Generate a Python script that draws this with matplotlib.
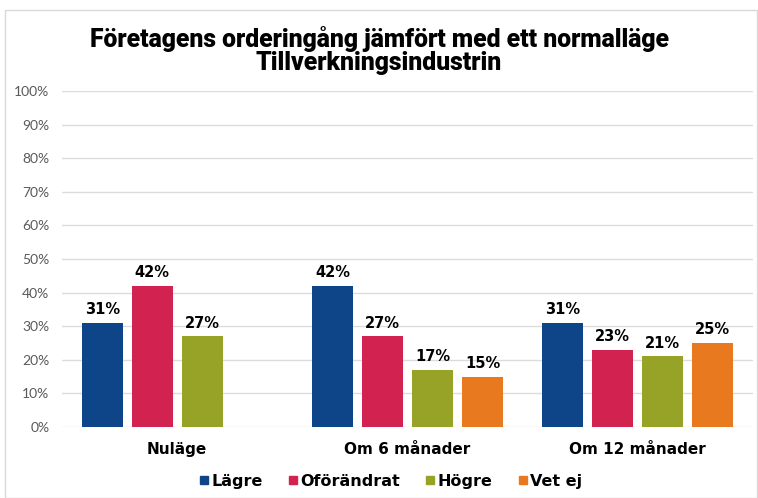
import numpy as np
import matplotlib
matplotlib.use('Agg')
import matplotlib.pyplot as plt
import matplotlib.patches as patches
from matplotlib.lines import Line2D

# data
categories = ['Nuläge', 'Om 6 månader', 'Om 12 månader']
series = ['Lägre', 'Oförändrat', 'Högre', 'Vet ej']
values = {
    'Lägre':      [31, 42, 31],
    'Oförändrat': [42, 27, 23],
    'Högre':      [27, 17, 21],
    'Vet ej':     [None, 15, 25],
}
colors = ['#0E4589', '#D22250', '#97A326', '#E8791E']
yticks = [0, 10, 20, 30, 40, 50, 60, 70, 80, 90, 100]

fig = plt.figure(figsize=(7.58, 4.98), dpi=100, facecolor='white')
ax = fig.add_axes([62/758, (498-427)/498, (753-62)/758, (427-91)/498])

step = 50/230.5
width = 41/230.5
x = np.arange(len(categories))
for i, (s, c) in enumerate(zip(series, colors)):
    off = (i - 1.5)*step
    for j, v in enumerate(values[s]):
        if v is None:
            continue
        ax.bar(x[j] + off, v, width, color=c, zorder=3)
        ax.text(x[j] + off, v + 2.6, f'{v}%', ha='center', va='baseline',
                fontsize=10.5, fontweight='bold', family='DejaVu Sans', color='black')

ax.set_xlim(-0.5, 2.5)
ax.set_ylim(0, 100)
ax.set_yticks(yticks)
ax.set_yticklabels([f'{t}%' for t in yticks], fontsize=10, color='#595959', family='Lato')
ax.set_xticks(x)
ax.set_xticklabels(categories, fontsize=11, fontweight='bold', family='DejaVu Sans')
ax.tick_params(axis='both', length=0)
ax.tick_params(axis='x', pad=11)
ax.tick_params(axis='y', pad=9)
ax.grid(axis='y', color='#DCDCDC', lw=1, zorder=0)
for sp in ax.spines.values():
    sp.set_visible(False)

# title
fig.text(0.5, 1 - 39/498, 'Företagens orderingång jämfört med ett normalläge',
         ha='center', va='center', fontsize=17.8, fontweight='black', family='Roboto')
fig.text(0.5, 1 - 63/498, 'Tillverkningsindustrin',
         ha='center', va='center', fontsize=17.8, fontweight='black', family='Roboto')

# legend
handles = [Line2D([0], [0], marker='s', color=c, linestyle='', markersize=5.5, label=s)
           for s, c in zip(series, colors)]
fig.legend(handles=handles, loc='center', bbox_to_anchor=(390/758, 1 - 481/498), ncol=4,
           frameon=False, handletextpad=0.05, columnspacing=1.5, handlelength=0.8,
           prop={'family': 'DejaVu Sans', 'weight': 'bold', 'size': 11.5})

# frame
fig.patches.append(patches.Rectangle((5/758, 0), 752/758, 1 - 10/498, transform=fig.transFigure,
                                     fill=False, edgecolor='#D9D9D9', lw=1))

plt.savefig('out.png', dpi=100)
